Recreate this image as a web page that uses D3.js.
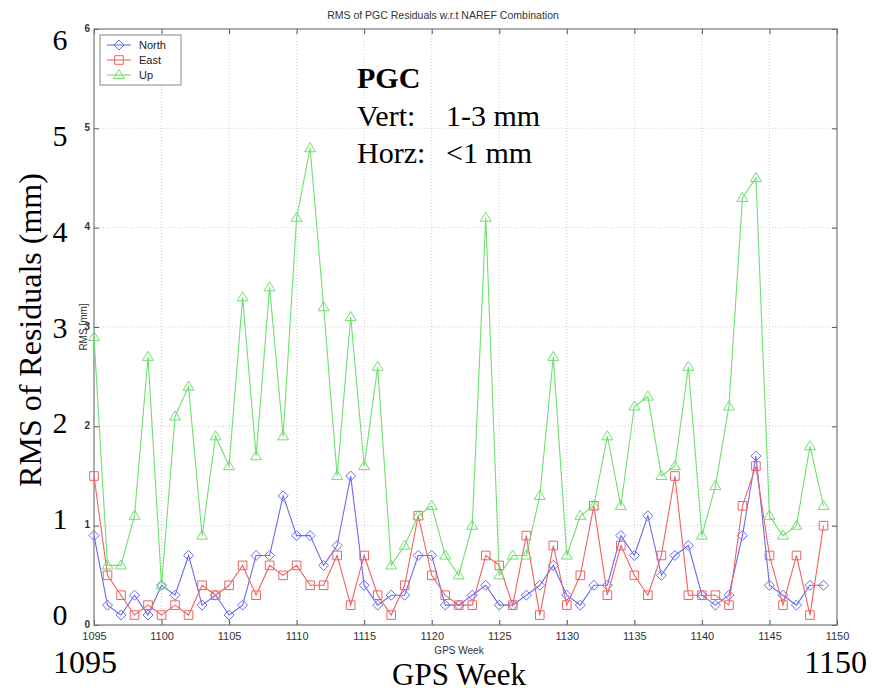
<!DOCTYPE html>
<html>
<head>
<meta charset="utf-8">
<script src="https://cdn.jsdelivr.net/npm/d3@7"></script>
<style>
  body { margin: 0; background: #fff; }
  svg { display: block; }
  .small { font-family: Arial, "Liberation Sans", sans-serif; fill: #333; }
  .big { font-family: "Times New Roman", "Liberation Serif", serif; fill: #000; }
</style>
</head>
<body>
<div id="chart"></div>
<script>
// data (GPS weeks 1095..1149)
var weeks = d3.range(1095, 1150);
var north = [0.9,0.2,0.1,0.3,0.1,0.4,0.3,0.7,0.2,0.3,0.1,0.2,0.7,0.7,1.3,0.9,0.9,0.6,0.8,1.5,0.4,0.2,
             0.3,0.3,0.7,0.7,0.2,0.2,0.3,0.4,0.2,0.2,0.3,0.4,0.6,0.3,0.2,0.4,0.4,
             0.9,0.7,1.1,0.5,0.7,0.8,0.3,0.2,0.3,0.9,1.7,0.4,0.3,0.2,0.4,0.4];
var east  = [1.5,0.5,0.3,0.1,0.2,0.1,0.2,0.1,0.4,0.3,0.4,0.6,0.3,0.6,0.5,0.6,0.4,0.4,0.7,0.2,0.7,0.3,
             0.1,0.4,1.1,0.5,0.3,0.2,0.2,0.7,0.6,0.2,0.9,0.1,0.8,0.2,0.5,1.2,0.3,
             0.8,0.5,0.3,0.7,1.5,0.3,0.3,0.3,0.2,1.2,1.6,0.7,0.2,0.7,0.1,1.0];
var up    = [2.9,0.6,0.6,1.1,2.7,0.4,2.1,2.4,0.9,1.9,1.6,3.3,1.7,3.4,1.9,4.1,4.8,3.2,1.5,3.1,1.6,2.6,
             0.6,0.8,1.1,1.2,0.7,0.5,1.0,4.1,0.5,0.7,0.7,1.3,2.7,0.7,1.1,1.2,1.9,
             1.2,2.2,2.3,1.5,1.6,2.6,0.9,1.4,2.2,4.3,4.5,1.1,0.9,1.0,1.8,1.2];
var seriesNames = ["North", "East", "Up"];
var seriesColors = ["#6a6af0", "#ee6262", "#6ee06e"];
var seriesShapes = ["diamond", "square", "triangle"];
var xTicks = d3.range(1095, 1151, 5);
var yTicks = [0, 1, 2, 3, 4, 5, 6];

var W = 872, H = 693;
var m = {top: 29, right: 35, bottom: 68, left: 94};
var w = W - m.left - m.right, h = H - m.top - m.bottom;

var svg = d3.select("#chart").append("svg")
            .attr("width", W).attr("height", H);

var x = d3.scaleLinear().domain([1095, 1150]).range([m.left, m.left + w]);
var y = d3.scaleLinear().domain([0, 6]).range([m.top + h, m.top]);

// grid
var grid = svg.append("g").attr("stroke", "#cfcfcf").attr("stroke-dasharray", "1,2");
grid.selectAll(".gx").data(xTicks.slice(1, -1)).enter().append("line")
    .attr("x1", d => x(d)).attr("x2", d => x(d))
    .attr("y1", m.top).attr("y2", m.top + h);
grid.selectAll(".gy").data(yTicks.slice(1, -1)).enter().append("line")
    .attr("y1", d => y(d)).attr("y2", d => y(d))
    .attr("x1", m.left).attr("x2", m.left + w);

// axes (ticks inside, MATLAB style)
function styleAxis(g) {
  g.select(".domain").remove();
  g.selectAll(".tick line").attr("stroke", "#555");
  g.selectAll(".tick text").attr("class", "small").attr("font-size", 11);
}
svg.append("g").attr("transform", "translate(0," + (m.top + h) + ")")
   .call(d3.axisBottom(x).tickValues(xTicks).tickFormat(d3.format("d"))
           .tickSizeInner(-5).tickSizeOuter(0).tickPadding(7))
   .call(styleAxis);
svg.append("g").attr("transform", "translate(0," + m.top + ")")
   .call(d3.axisTop(x).tickValues(xTicks).tickSizeInner(-5).tickSizeOuter(0).tickFormat(""))
   .call(styleAxis);
svg.append("g").attr("transform", "translate(" + m.left + ",0)")
   .call(d3.axisLeft(y).tickValues(yTicks).tickFormat(d3.format("d"))
           .tickSizeInner(-5).tickSizeOuter(0).tickPadding(4))
   .call(styleAxis)
   .selectAll(".tick text").attr("font-size", 10).attr("font-weight", "bold").attr("dy", "0.2em");
svg.append("g").attr("transform", "translate(" + (m.left + w) + ",0)")
   .call(d3.axisRight(y).tickValues(yTicks).tickSizeInner(-5).tickSizeOuter(0).tickFormat(""))
   .call(styleAxis);

svg.append("rect")
   .attr("x", m.left).attr("y", m.top).attr("width", w).attr("height", h)
   .attr("fill", "none").attr("stroke", "#777").attr("stroke-width", 1.2);

// marker paths
function marker(shape, cx, cy) {
  if (shape == "diamond") {
    var r = 5;
    return "M" + cx + "," + (cy - r) + "L" + (cx + r) + "," + cy + "L" + cx + "," + (cy + r) + "L" + (cx - r) + "," + cy + "Z";
  }
  if (shape == "square") {
    var s = 4.3;
    return "M" + (cx - s) + "," + (cy - s) + "h" + (2 * s) + "v" + (2 * s) + "h" + (-2 * s) + "Z";
  }
  var t = 5.5;
  return "M" + cx + "," + (cy - t) + "L" + (cx + t) + "," + (cy + t * 0.65) + "L" + (cx - t) + "," + (cy + t * 0.65) + "Z";
}

var allSeries = [north, east, up];
var line = d3.line().x((d, i) => x(weeks[i])).y(d => y(d));

allSeries.forEach(function(vals, k) {
  var g = svg.append("g");
  g.append("path").datum(vals)
   .attr("d", line).attr("fill", "none")
   .attr("stroke", seriesColors[k]).attr("stroke-width", 1.1);
  g.selectAll(".mk").data(vals).enter().append("path")
   .attr("d", (d, i) => marker(seriesShapes[k], x(weeks[i]), y(d)))
   .attr("fill", "none").attr("stroke", seriesColors[k]).attr("stroke-width", 1);
});

// legend
var lg = svg.append("g").attr("transform", "translate(100,35)");
lg.append("rect").attr("width", 81).attr("height", 50)
  .attr("fill", "#fff").attr("stroke", "#888");
seriesNames.forEach(function(name, k) {
  var ly = 10 + k * 15;
  lg.append("line").attr("x1", 7).attr("x2", 31).attr("y1", ly).attr("y2", ly)
    .attr("stroke", seriesColors[k]).attr("stroke-width", 1.1);
  lg.append("path").attr("d", marker(seriesShapes[k], 19, ly))
    .attr("fill", "none").attr("stroke", seriesColors[k]);
  lg.append("text").attr("class", "small").attr("x", 39).attr("y", ly + 4)
    .attr("font-size", 11).style("fill", "#222").text(name);
});

// small titles
svg.append("text").attr("class", "small").attr("x", 443).attr("y", 19)
   .attr("text-anchor", "middle").attr("font-size", 10.5).text("RMS of PGC Residuals w.r.t NAREF Combination");
svg.append("text").attr("class", "small").attr("x", 459).attr("y", 654)
   .attr("text-anchor", "middle").attr("font-size", 10).text("GPS Week");
svg.append("text").attr("class", "small").attr("transform", "translate(87,327) rotate(-90)")
   .attr("text-anchor", "middle").attr("font-size", 10).text("RMS [mm]");

// big overlay labels
var yBig = d3.scaleLinear().domain([0, 6]).range([625, 50]);
svg.append("g").selectAll("text").data(yTicks).enter().append("text")
   .attr("class", "big").attr("x", 60).attr("y", d => yBig(d))
   .attr("text-anchor", "middle").attr("font-size", 30).text(d => d);
svg.append("text").attr("class", "big").attr("x", 53).attr("y", 673)
   .attr("font-size", 32).text("1095");
svg.append("text").attr("class", "big").attr("x", 867).attr("y", 673)
   .attr("text-anchor", "end").attr("font-size", 32).text("1150");
svg.append("text").attr("class", "big").attr("x", 459).attr("y", 685)
   .attr("text-anchor", "middle").attr("font-size", 31).text("GPS Week");
svg.append("text").attr("class", "big").attr("transform", "translate(41,330) rotate(-90)")
   .attr("text-anchor", "middle").attr("font-size", 32).text("RMS of Residuals (mm)");

var note = svg.append("g").attr("class", "big").attr("font-size", 30);
note.append("text").attr("x", 357).attr("y", 88).attr("font-weight", "bold").text("PGC");
note.append("text").attr("x", 357).attr("y", 126).text("Vert:");
note.append("text").attr("x", 446).attr("y", 126).text("1-3 mm");
note.append("text").attr("x", 357).attr("y", 163).text("Horz:");
note.append("text").attr("x", 446).attr("y", 163).text("<1 mm");
</script>
</body>
</html>
